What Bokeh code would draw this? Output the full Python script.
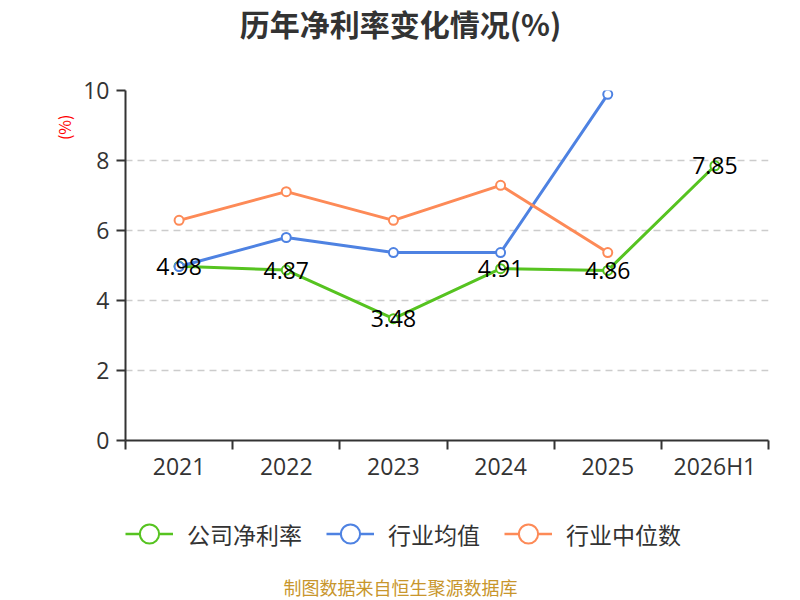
from bokeh.plotting import figure
from bokeh.models import Range1d, FixedTicker, Legend, LegendItem, Title
from bokeh.layouts import column
from bokeh.embed import file_html
from bokeh.resources import INLINE
from bokeh.core.properties import value

# ---- data ----
categories = ["2021", "2022", "2023", "2024", "2025", "2026H1"]
company_margin = [4.98, 4.87, 3.48, 4.91, 4.86, 7.85]
industry_mean = [4.97, 5.80, 5.37, 5.37, 9.89]
industry_median = [6.29, 7.11, 6.29, 7.29, 5.37]
y_ticks = [0, 2, 4, 6, 8, 10]
series_names = ["公司净利率", "行业均值", "行业中位数"]
title_text = "历年净利率变化情况(%)"
unit_text = "(%)"
source_text = "制图数据来自恒生聚源数据库"

GREEN = "#56c320"
BLUE = "#4e82e2"
ORANGE = "#fd8a57"
CJK = "Noto Sans CJK SC"
NUM = "Open Sans"
W = 800
LEFT, RIGHT = 125, 32          # frame borders shared by all stacked figures
NAN = float("nan")


def bare(height):
    # frames of stacked figures are aligned with the main frame, so map the
    # x range to page pixels inside that frame
    f = figure(width=W, height=height, output_backend="svg", toolbar_location=None,
               x_range=Range1d(LEFT, W - RIGHT), y_range=Range1d(0, height),
               x_axis_location=None, y_axis_location=None,
               min_border_left=LEFT, min_border_right=RIGHT, min_border_top=0, min_border_bottom=0)
    f.grid.visible = False
    f.outline_line_color = None
    return f


# ---- header with title ----
head = bare(50)
head.text([W / 2], [28], text=[title_text], text_align="center", text_baseline="middle",
          text_font=value(CJK), text_font_size="30px", text_font_style="bold", text_color="#333333")

# ---- main chart ----
xs = list(range(1, len(categories) + 1))
bounds = [i + 0.5 for i in range(len(categories) + 1)]

p = figure(width=W, height=440, output_backend="svg", toolbar_location=None,
           x_range=Range1d(0.5, len(categories) + 0.5), y_range=Range1d(0, 10),
           min_border_left=LEFT, min_border_right=RIGHT, min_border_top=40, min_border_bottom=50)
p.outline_line_color = None

ya = p.yaxis[0]
ya.ticker = FixedTicker(ticks=y_ticks, minor_ticks=[])
ya.axis_line_color = "#333333"
ya.axis_line_width = 2
ya.major_tick_out = 9
ya.major_tick_in = 0
ya.major_tick_line_color = "#333333"
ya.major_tick_line_width = 2
ya.minor_tick_line_color = None
ya.major_label_text_font = NUM
ya.major_label_text_font_size = "23px"
ya.major_label_text_color = "#333333"
ya.major_label_standoff = 7

xa = p.xaxis[0]
xa.ticker = FixedTicker(ticks=xs, minor_ticks=bounds)
xa.major_label_overrides = {x: c for x, c in zip(xs, categories)}
xa.axis_line_color = "#333333"
xa.axis_line_width = 2
xa.major_tick_out = 0
xa.major_tick_in = 0
xa.major_tick_line_color = None
xa.minor_tick_out = 9
xa.minor_tick_in = 0
xa.minor_tick_line_color = "#333333"
xa.minor_tick_line_width = 2
xa.major_label_text_font = NUM
xa.major_label_text_font_size = "23px"
xa.major_label_text_color = "#333333"
xa.major_label_standoff = 0

p.xgrid.grid_line_color = None
p.ygrid.ticker = FixedTicker(ticks=y_ticks[1:])
p.ygrid.grid_line_color = "#cccccc"
p.ygrid.grid_line_width = 1.5
p.ygrid.grid_line_dash = "7 5"

g_line = p.line(xs, company_margin, line_color=GREEN, line_width=3)
g_pts = p.scatter(xs, company_margin, size=9, fill_color="white", line_color=GREEN, line_width=2)
b_line = p.line(xs[:len(industry_mean)], industry_mean, line_color=BLUE, line_width=3)
b_pts = p.scatter(xs[:len(industry_mean)], industry_mean, size=9, fill_color="white", line_color=BLUE, line_width=2)
o_line = p.line(xs[:len(industry_median)], industry_median, line_color=ORANGE, line_width=3)
o_pts = p.scatter(xs[:len(industry_median)], industry_median, size=9, fill_color="white", line_color=ORANGE, line_width=2)

p.text(xs, company_margin, text=[f"{v:.2f}" for v in company_margin],
       text_align="center", text_baseline="middle", text_font=value(NUM),
       text_font_size="23px", text_color="#000000")

p.add_layout(Title(text=unit_text, align="right", text_font=CJK, text_font_size="16px",
                   text_font_style="normal", text_color="#ff0000", offset=24), "left")

# ---- legend + source ----
foot = bare(110)
styles = [(GREEN, series_names[0]), (BLUE, series_names[1]), (ORANGE, series_names[2])]
items = []
for color, name in styles:
    lr = foot.line([NAN, NAN], [NAN, NAN], line_color=color, line_width=2.5)
    sr = foot.scatter([NAN], [NAN], fill_color="white", line_color=color, line_width=2)
    items.append(LegendItem(label=name, renderers=[lr, sr]))
legend = Legend(items=items, orientation="horizontal", location=(0, 39), margin=0,
                glyph_width=48, glyph_height=55, label_standoff=14, spacing=24, padding=0,
                label_text_font=CJK, label_text_font_size="23px", label_text_color="#333333",
                border_line_color=None, background_fill_alpha=0)
foot.add_layout(legend)
foot.text([W / 2], [14], text=[source_text], text_align="center", text_baseline="middle",
          text_font=value(CJK), text_font_size="18px", text_color="#c8962c")

layout = column(head, p, foot, spacing=0)
open("out.html", "w").write(file_html(layout, INLINE))
